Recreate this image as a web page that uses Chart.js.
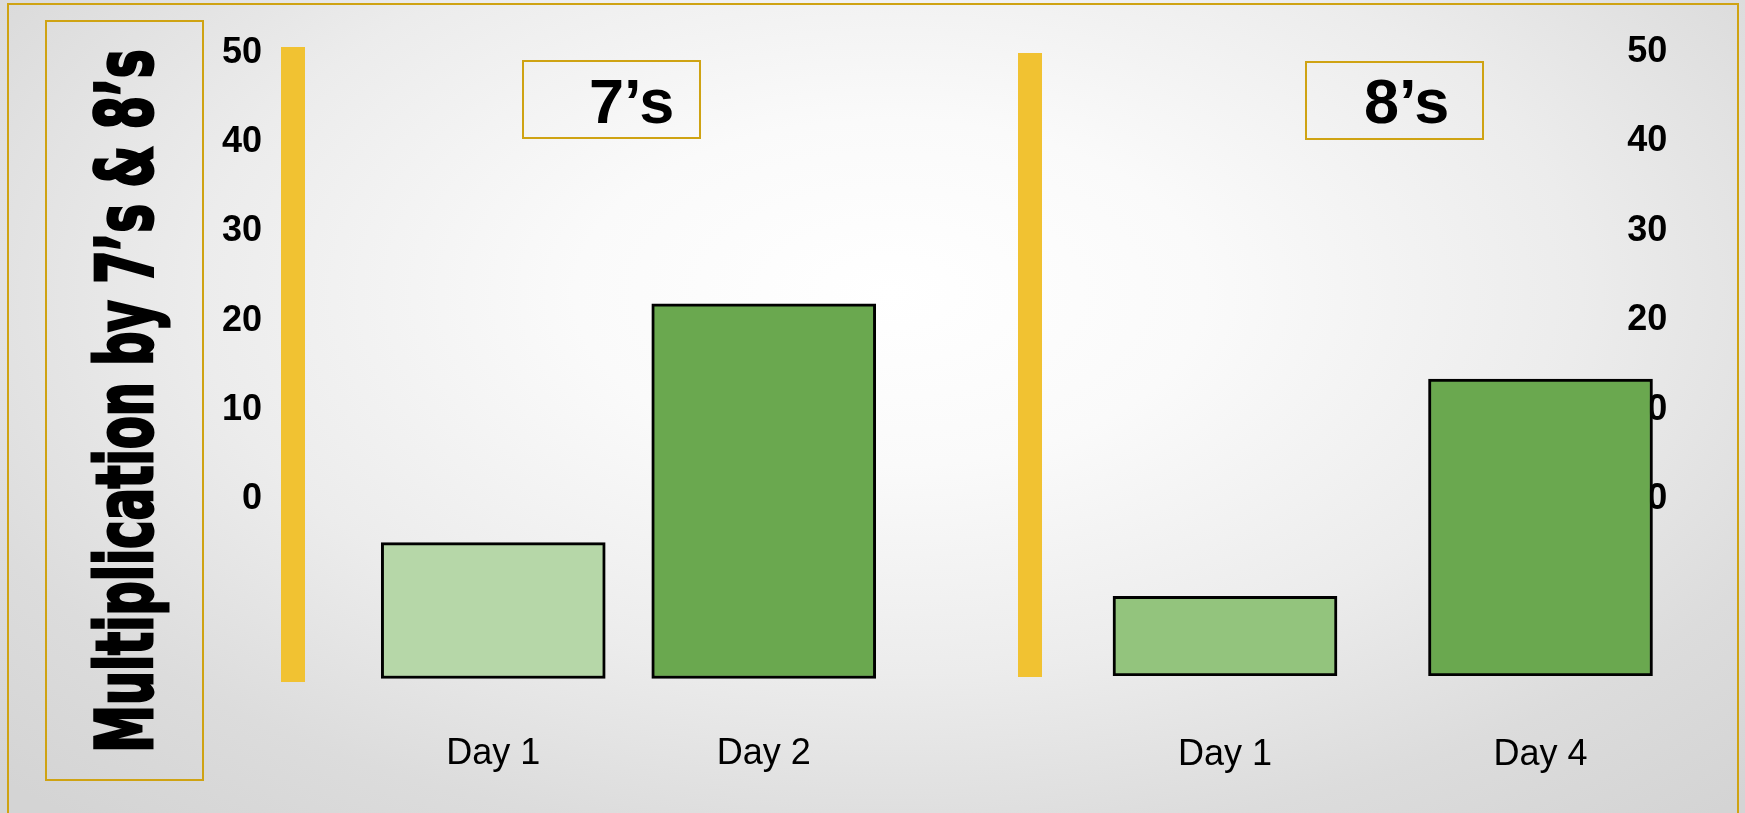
<!DOCTYPE html>
<html>
<head>
<meta charset="utf-8">
<script src="https://cdn.jsdelivr.net/npm/chart.js@4.4.1/dist/chart.umd.min.js"></script>
<style>
  html, body { margin: 0; padding: 0; width: 1745px; height: 813px; overflow: hidden; }
  body {
    position: relative;
    font-family: "Liberation Sans", Arial, sans-serif;
    background: radial-gradient(ellipse 72% 85% at 51% 36%, #ffffff 0%, #fafafa 25%, #ececec 55%, #dcdcdc 80%, #d4d4d4 100%);
  }
  canvas { position: absolute; left: 0; top: 0; }
  .frame { position: absolute; left: 7px; top: 3px; width: 1728px; height: 900px; border: 2px solid #cfa313; }
  .titlebox { position: absolute; left: 45px; top: 20px; width: 155px; height: 757px; border: 2px solid #cfa313; }
  #title {
    position: absolute; white-space: nowrap; color: #000;
    font: bold 78px "Liberation Sans Narrow", "DejaVu Sans Condensed", sans-serif;
    line-height: 78px; -webkit-text-stroke: 3px #000;
  }
  .numbox { position: absolute; width: 175px; height: 75px; border: 2px solid #cfa313; }
  .numtext { position: absolute; top: 70px; font-weight: bold; font-size: 63px; line-height: 62px; color: #000; }
</style>
</head>
<body>
<div class="frame"></div>
<div class="titlebox"></div>
<div id="title">Multiplication by 7’s &amp; 8’s</div>
<div class="numbox" style="left:522px; top:60px;"></div>
<span class="numtext" style="left:589px;">7’s</span>
<div class="numbox" style="left:1305px; top:61px;"></div>
<span class="numtext" style="left:1364px;">8’s</span>
<canvas id="chart7" width="1745" height="813"></canvas>
<canvas id="chart8" width="1745" height="813"></canvas>
<script>
const days7 = ['Day 1', 'Day 2'];
const scores7 = [15.2, 41.9];
const days8 = ['Day 1', 'Day 4'];
const scores8 = [8.9, 33.2];
const scaleTicks = [0, 10, 20, 30, 40, 50];

// squeeze the side title into its box
const title = document.getElementById('title');
const tw = title.offsetWidth;
title.style.left = (124.5 - tw / 2) + 'px';
title.style.top = (401 - 39) + 'px';
title.style.transform = 'rotate(-90deg) scaleX(' + (703 / tw) + ')';

const fontFamily = '"Liberation Sans", Arial, sans-serif';
const tickFont = { family: fontFamily, size: 36, weight: 'bold' };
const dayFont = { family: fontFamily, size: 36 };
const gold = '#f1c232';
const noGrid = { display: false, drawTicks: false };

const fixWidth = w => axis => { axis.width = w; };
const fixHeight = h => axis => { axis.height = h; };
const useTicks = axis => { axis.ticks = scaleTicks.map(v => ({ value: v })); };

const chart7 = new Chart(document.getElementById('chart7'), {
  type: 'bar',
  data: {
    labels: days7,
    datasets: [{
      data: scores7,
      backgroundColor: ['#b6d7a8', '#6aa84f'],
      borderColor: '#000',
      borderWidth: 3,
      borderSkipped: false,
      barThickness: 224,
      yAxisID: 'y'
    }]
  },
  options: {
    responsive: false,
    animation: false,
    layout: { padding: { left: 192.5, top: 58.5, right: 846, bottom: 31.5 } },
    plugins: { legend: { display: false }, tooltip: { enabled: false } },
    scales: {
      x: {
        grid: noGrid, border: { display: false },
        ticks: { color: '#000', font: dayFont, padding: 51 },
        afterFit: fixHeight(100)
      },
      y: {
        min: -0.34, max: 69.35,
        grid: noGrid, border: { display: false }, ticks: { display: false },
        afterFit: fixWidth(65.5)
      },
      yl: {
        type: 'linear', position: 'left', weight: 1,
        min: -19.74, max: 50.06,
        grid: noGrid, border: { color: gold, width: 24 },
        ticks: { color: '#000', font: tickFont, padding: 30.5, labelOffset: -6 },
        afterBuildTicks: useTicks,
        afterFit: fixWidth(100)
      }
    }
  }
});

const chart8 = new Chart(document.getElementById('chart8'), {
  type: 'bar',
  data: {
    labels: days8,
    datasets: [{
      data: scores8,
      backgroundColor: ['#93c47d', '#6aa84f'],
      borderColor: '#000',
      borderWidth: 3,
      borderSkipped: false,
      barThickness: 224,
      yAxisID: 'y'
    }]
  },
  options: {
    responsive: false,
    animation: false,
    layout: { padding: { left: 1020, top: 65, right: 46.75, bottom: 37 } },
    plugins: { legend: { display: false }, tooltip: { enabled: false } },
    scales: {
      x: {
        grid: noGrid, border: { display: false },
        ticks: { color: '#000', font: dayFont, padding: 57 },
        afterFit: fixHeight(100)
      },
      y: {
        min: 0, max: 68.34,
        grid: noGrid, border: { display: false }, ticks: { display: false },
        afterFit: fixWidth(37.25)
      },
      yg: {
        type: 'linear', position: 'left', weight: 1,
        min: 0, max: 1,
        grid: noGrid, border: { color: gold, width: 24 }, ticks: { display: false },
        afterFit: fixWidth(10)
      },
      yr: {
        type: 'linear', position: 'right',
        min: -18.34, max: 50,
        grid: noGrid, border: { display: false },
        ticks: { color: '#000', font: tickFont, mirror: true, padding: -31, labelOffset: -13 },
        afterBuildTicks: useTicks,
        afterFit: fixWidth(0)
      }
    }
  }
});
</script>
</body>
</html>
